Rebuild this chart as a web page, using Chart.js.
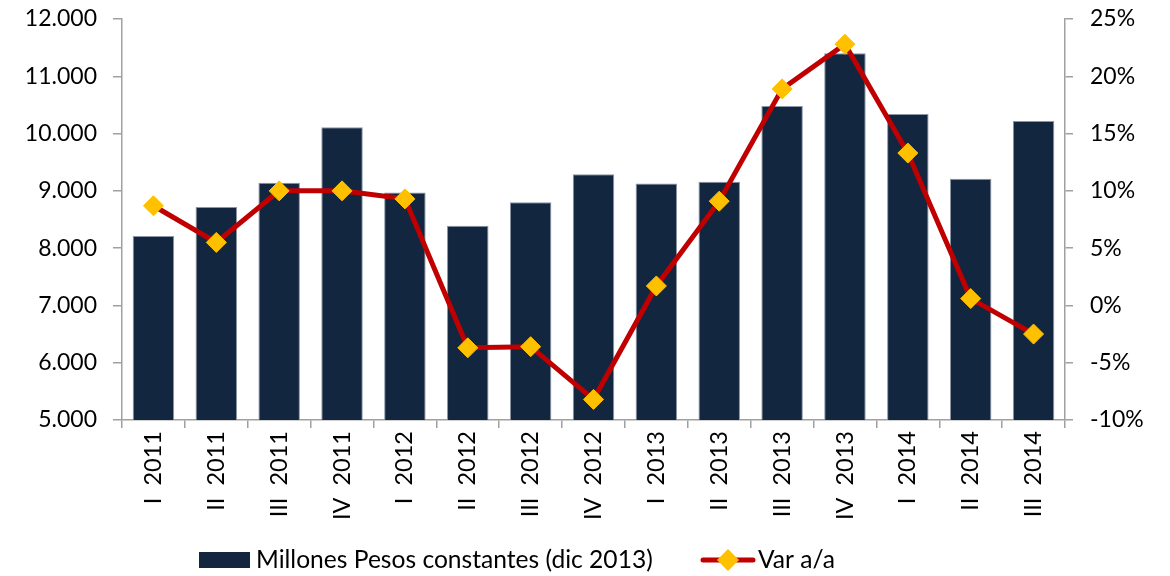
<!DOCTYPE html>
<html>
<head>
<meta charset="utf-8">
<script src="https://cdn.jsdelivr.net/npm/chart.js@4"></script>
<style>
html,body{margin:0;padding:0;background:#fff;}
#wrap{width:1170px;height:576px;position:relative;}
</style>
</head>
<body>
<div id="wrap"><canvas id="c" width="1170" height="576"></canvas></div>
<script>
const categories = ["I  2011","II  2011","III  2011","IV  2011","I  2012","II  2012","III  2012","IV  2012","I  2013","II  2013","III  2013","IV  2013","I  2014","II  2014","III  2014"];
const millones = [8210, 8720, 9140, 10110, 8970, 8390, 8800, 9290, 9130, 9160, 10480, 11400, 10340, 9210, 10220];
const varAA = [8.7, 5.5, 10.0, 10.0, 9.3, -3.7, -3.6, -8.2, 1.7, 9.1, 18.9, 22.8, 13.3, 0.6, -2.5];
const seriesNames = ["Millones Pesos constantes (dic 2013)", "Var a/a"];

const NAVY = '#13263f', RED = '#c00000', GOLD = '#ffc000', AXIS = '#a0a0a0';
const FONT = 'Lato, "Open Sans", sans-serif';

// custom legend drawn under the x axis
const legendPlugin = {
  id: 'customLegend',
  afterDraw(chart) {
    const ctx = chart.ctx;
    const cy = 560;
    ctx.save();
    ctx.font = '24.6px ' + FONT;
    ctx.textBaseline = 'middle';
    ctx.textAlign = 'left';
    ctx.fillStyle = NAVY;
    ctx.fillRect(199, cy - 8, 51, 16);
    ctx.fillStyle = '#000';
    ctx.fillText(seriesNames[0], 256, cy);
    ctx.strokeStyle = RED; ctx.lineWidth = 5; ctx.lineCap = 'round';
    ctx.beginPath(); ctx.moveTo(703, cy); ctx.lineTo(753, cy); ctx.stroke();
    ctx.fillStyle = GOLD;
    ctx.beginPath(); ctx.moveTo(728, cy - 11); ctx.lineTo(739, cy); ctx.lineTo(728, cy + 11); ctx.lineTo(717, cy); ctx.closePath(); ctx.fill();
    ctx.fillStyle = '#000';
    ctx.fillText(seriesNames[1], 758, cy);
    ctx.restore();
  }
};

const fixV = (w) => (s) => { s.width = w; s.paddingTop = 0; s.paddingBottom = 0; };

new Chart(document.getElementById('c'), {
  data: {
    labels: categories,
    datasets: [
      {
        type: 'line', label: seriesNames[1], data: varAA, yAxisID: 'y1',
        borderColor: RED, borderWidth: 5, backgroundColor: GOLD,
        pointStyle: 'rectRot', pointRadius: 10, pointHoverRadius: 10,
        pointBackgroundColor: GOLD, pointBorderColor: GOLD, pointBorderWidth: 1,
        tension: 0, order: 0
      },
      {
        type: 'bar', label: seriesNames[0], data: millones, yAxisID: 'y',
        backgroundColor: NAVY, borderColor: '#8a95a5', borderWidth: 1,
        barPercentage: 0.66, categoryPercentage: 1.0, order: 1
      }
    ]
  },
  plugins: [legendPlugin],
  options: {
    responsive: false, animation: false,
    layout: { padding: { top: 19, left: 0, right: 0, bottom: 46 } },
    plugins: {
      tooltip: { enabled: false },
      legend: { display: false }
    },
    scales: {
      x: {
        position: 'bottom',
        grid: { offset: true, drawOnChartArea: false, drawTicks: true, tickLength: 8, color: AXIS, lineWidth: 1.5 },
        border: { color: AXIS, width: 1.5 },
        ticks: { minRotation: 90, maxRotation: 90, autoSkip: false, padding: 3, color: '#000', font: { family: FONT, size: 23.5 } },
        afterFit: (s) => { s.height = 110; }
      },
      y: {
        position: 'left', min: 5000, max: 12000,
        grid: { drawOnChartArea: false, drawTicks: true, tickLength: 9, color: AXIS, lineWidth: 1.5 },
        border: { color: AXIS, width: 1.5 },
        ticks: { stepSize: 1000, color: '#000', padding: 16, font: { family: FONT, size: 23 },
          callback: (v) => v.toLocaleString('de-DE') },
        afterFit: fixV(122)
      },
      y1: {
        position: 'right', min: -10, max: 25,
        grid: { drawOnChartArea: false, drawTicks: true, tickLength: 8, color: AXIS, lineWidth: 1.5 },
        border: { color: AXIS, width: 1.5 },
        ticks: { stepSize: 5, color: '#000', padding: 17, font: { family: FONT, size: 23 },
          callback: (v) => v + '%' },
        afterFit: fixV(105)
      }
    }
  }
});
</script>
</body>
</html>
